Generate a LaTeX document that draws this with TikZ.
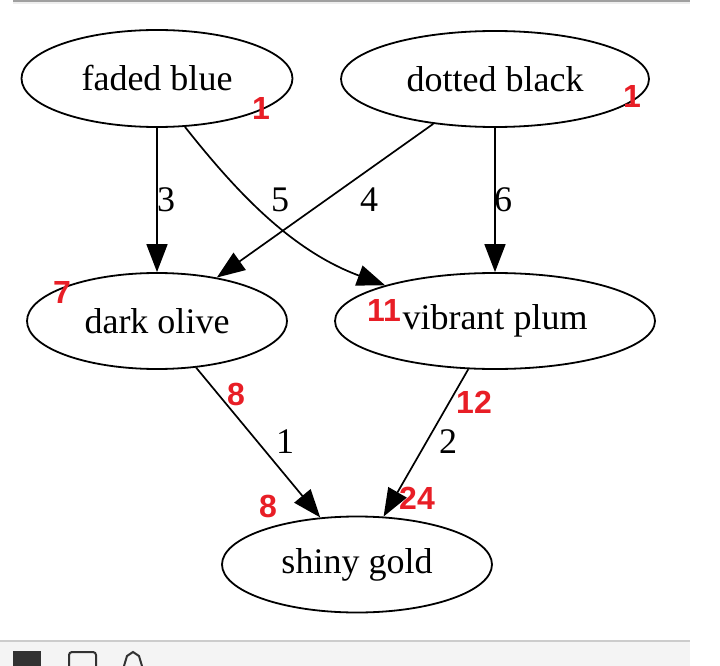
\documentclass[tikz,border=0pt]{standalone}
\usepackage{fontspec}
\setmainfont{Liberation Serif}
\newfontfamily\redfont{Liberation Sans}
\usetikzlibrary{arrows.meta,shapes.geometric}
\definecolor{redlab}{RGB}{232,30,38}
\definecolor{barA}{RGB}{160,160,160}
\definecolor{barB}{RGB}{238,238,238}
\definecolor{panel}{RGB}{244,244,244}
\definecolor{panelline}{RGB}{204,204,204}
\definecolor{icon}{RGB}{50,50,50}
\begin{document}
\begin{tikzpicture}[x=1pt,y=-1pt,
  gnode/.style={ellipse,draw,line width=1.8pt,inner sep=0pt,font=\fontsize{36}{40}\selectfont},
  edgeline/.style={line width=1.7pt,-{Triangle[length=28pt,width=21pt]}},
  elab/.style={font=\fontsize{36}{40}\selectfont,inner sep=0pt},
  rlab/.style={font=\redfont\bfseries\fontsize{32}{34}\selectfont,text=redlab,inner sep=0pt}]
\useasboundingbox (0,0) rectangle (720,666);
% window chrome
\fill[barA] (13,0) rectangle (690,2.2);
\fill[barB] (13,2.2) rectangle (690,4.5);
\fill[panelline] (0,640) rectangle (690,642);
\fill[panel] (0,642) rectangle (690,666);
\fill[icon] (13,651) rectangle (41,666);
\draw[icon,line width=2pt,rounded corners=3pt] (69,666) -- (69,652) -- (96,652) -- (96,666);
\draw[icon,line width=2pt] (124,666) -- (127,656) -- (133,652) -- (139,656) -- (142,666);
% nodes
\node[gnode,minimum width=271pt,minimum height=97pt] (fb) at (157,78.5) {faded blue};
\node[gnode,minimum width=308pt,minimum height=96pt] (db) at (495,79) {dotted black};
\node[gnode,minimum width=260pt,minimum height=96pt] (do) at (157,321) {dark olive};
\node[gnode,minimum width=320pt,minimum height=96pt] (vp) at (495,321) {vibrant plum};
\node[gnode,minimum width=270pt,minimum height=96pt] (sg) at (357,564.5) {shiny gold};
% edges
\draw[edgeline] (fb.south) -- (do.north);
\draw[edgeline] (fb.-60.5) .. controls (235,190) and (290,250) .. (vp.162);
\draw[edgeline] (db.-144.3) -- (do.36.6);
\draw[edgeline] (db.south) -- (vp.north);
\draw[edgeline] (do.-50.9) -- (sg.128.2);
\draw[edgeline] (vp.-119.2) -- (sg.61);
% edge labels
\node[elab] (l3) at (166,200) {3};
\node[elab] (l5) at (280,200) {5};
\node[elab] (l4) at (369,200) {4};
\node[elab] (l6) at (503,200) {6};
\node[elab] (l1) at (285,442) {1};
\node[elab] (l2) at (448,442) {2};
% red labels
\node[rlab] (r1) at (261,108) {1};
\node[rlab] (r2) at (632,96) {1};
\node[rlab] (r3) at (62,292) {7};
\node[rlab] (r4) at (384,310) {11};
\node[rlab] (r5) at (236,394) {8};
\node[rlab] (r6) at (474,402) {12};
\node[rlab] (r7) at (268,506) {8};
\node[rlab] (r8) at (417,498) {24};
\end{tikzpicture}
\end{document}
